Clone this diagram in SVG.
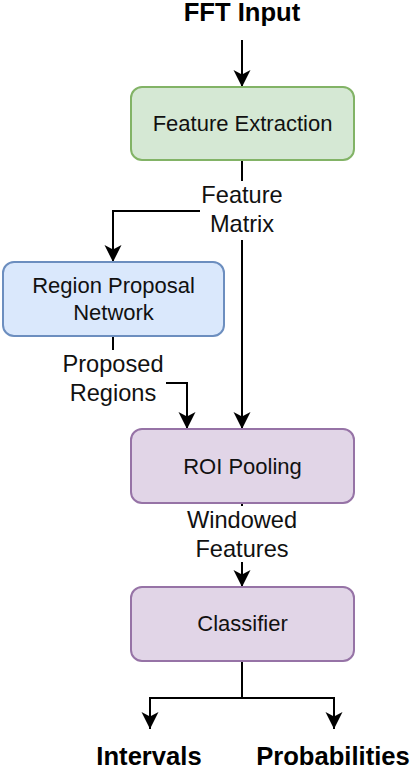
<svg xmlns="http://www.w3.org/2000/svg" width="410" height="766" viewBox="0 0 410 766">
<style>
.box{stroke-width:2}
.bt{font-family:"Liberation Sans",Arial,sans-serif;font-size:22px;fill:#111;text-anchor:middle}
.lt{font-family:"Liberation Sans",Arial,sans-serif;font-size:23.6px;fill:#111;text-anchor:middle}
.tt{font-family:"Liberation Sans",Arial,sans-serif;font-size:25.6px;font-weight:bold;fill:#000;text-anchor:middle}
.c{fill:none;stroke:#000;stroke-width:2}
.lb{fill:#fff}
</style>
<defs>
<marker id="arr" viewBox="-18 -10 20 20" refX="0" refY="0" markerWidth="20" markerHeight="20" markerUnits="userSpaceOnUse" orient="auto">
<path d="M0,0 L-17,-8.5 L-12.5,0 L-17,8.5 Z" fill="#000"/>
</marker>
</defs>
<rect width="410" height="766" fill="#fff"/>
<g id="connectors">
<path class="c" d="M242 40 V87" marker-end="url(#arr)"/>
<path class="c" d="M242 160 V429" marker-end="url(#arr)"/>
<path class="c" d="M200 211 H113 V262" marker-end="url(#arr)"/>
<path class="c" d="M113 336 V350"/>
<path class="c" d="M165 383 H187 V429" marker-end="url(#arr)"/>
<path class="c" d="M242 503 V587" marker-end="url(#arr)"/>
<path class="c" d="M242 661 V698 H150 V729" marker-end="url(#arr)"/>
<path class="c" d="M242 698 H334 V729" marker-end="url(#arr)"/>
<g id="label-feature-matrix">
<rect class="lb" x="200" y="181" width="86" height="59"/>
<text class="lt" x="242" y="203">Feature</text>
<text class="lt" x="242" y="232">Matrix</text>
</g>
<g id="label-proposed-regions">
<rect class="lb" x="60" y="350" width="106" height="58"/>
<text class="lt" x="113" y="372">Proposed</text>
<text class="lt" x="113" y="401">Regions</text>
</g>
<g id="label-windowed-features">
<rect class="lb" x="184" y="506" width="116" height="56"/>
<text class="lt" x="242" y="528">Windowed</text>
<text class="lt" x="242" y="557">Features</text>
</g>
</g>
<g id="fft-input">
<text class="tt" x="242" y="21">FFT Input</text>
</g>
<g id="feature-extraction">
<rect class="box" x="131" y="87" width="223" height="73" rx="11" fill="#d5e8d4" stroke="#82b366"/>
<text class="bt" x="242.5" y="131">Feature Extraction</text>
</g>
<g id="region-proposal-network">
<rect class="box" x="3" y="262" width="221" height="74" rx="11" fill="#dae8fc" stroke="#6c8ebf"/>
<text class="bt" x="113.5" y="293">Region Proposal</text>
<text class="bt" x="113.5" y="320">Network</text>
</g>
<g id="roi-pooling">
<rect class="box" x="131" y="429" width="223" height="74" rx="11" fill="#e1d5e7" stroke="#9673a6"/>
<text class="bt" x="242.5" y="474">ROI Pooling</text>
</g>
<g id="classifier">
<rect class="box" x="131" y="587" width="223" height="74" rx="11" fill="#e1d5e7" stroke="#9673a6"/>
<text class="bt" x="242.5" y="631">Classifier</text>
</g>
<g id="intervals">
<text class="tt" x="149" y="765">Intervals</text>
</g>
<g id="probabilities">
<text class="tt" x="333" y="765">Probabilities</text>
</g>
</svg>
